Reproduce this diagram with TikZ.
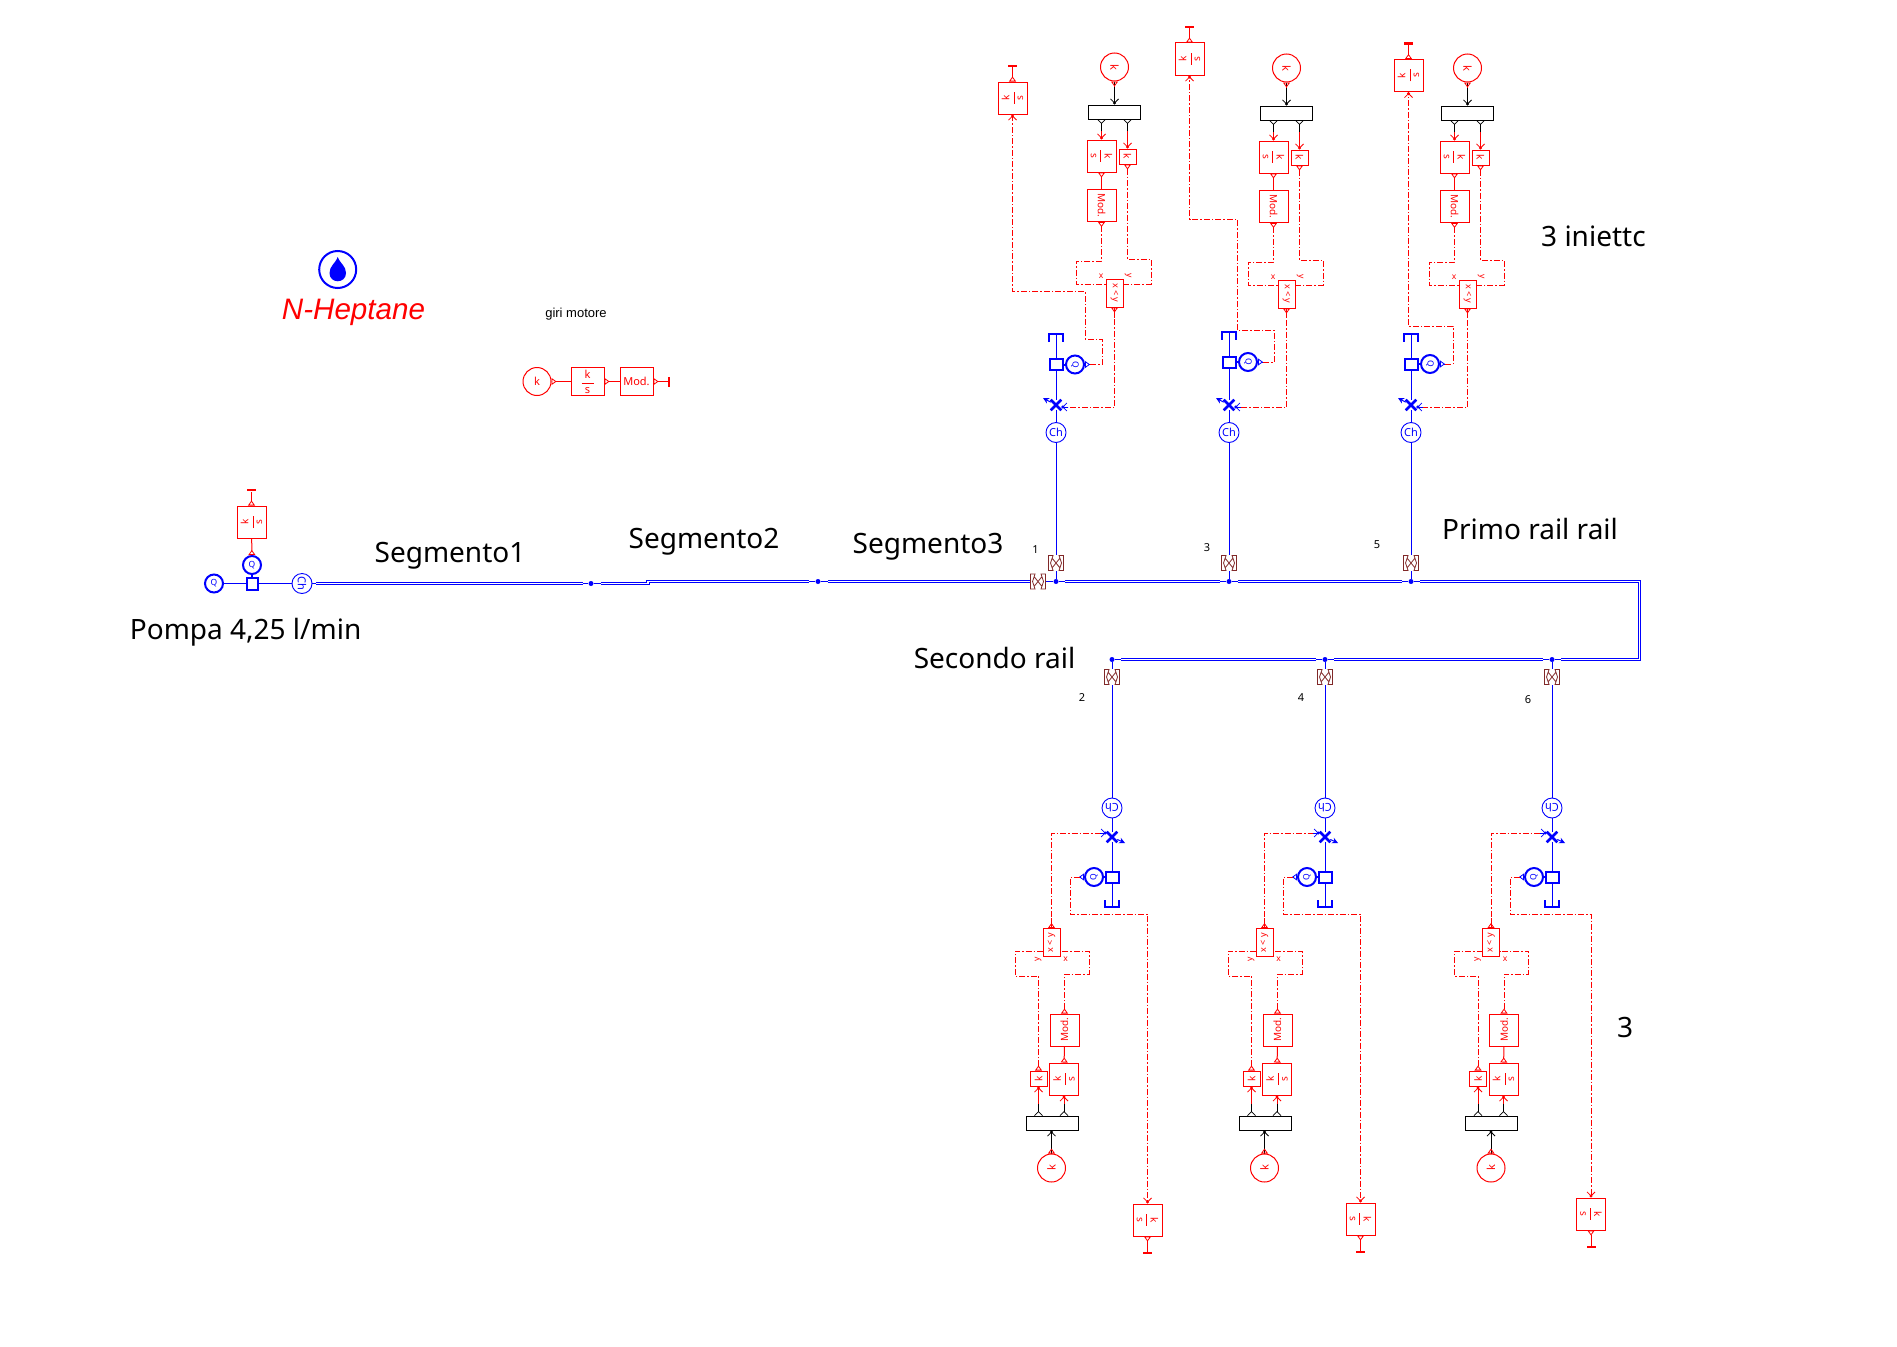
\documentclass[tikz,border=0pt]{standalone}
\usepackage{fontspec}
\usepackage{graphicx}
\setmainfont{Noto Sans}
\newfontfamily\arialfont{Liberation Sans}
\usetikzlibrary{arrows.meta,shapes.misc}
\newcommand{\ksfrac}{$\displaystyle\frac{\makebox[12pt]{\textrm{k}}}{\makebox[12pt]{\textrm{s}}}$}

\begin{document}
\begin{tikzpicture}[x=1pt,y=-1pt]
    % Styles for blocks and lines
    \tikzset{
      inport/.style={-{Straight Barb[length=4pt,width=8pt,line width=.8pt,sep=-2pt]Circle[length=3pt]}},
      outport/.style={{Triangle[open,reversed,length=5pt,width=7pt,line width=.8pt]}-},
      outbarb/.style={{Straight Barb[reversed,length=4pt,width=8pt,line width=.8pt]}-},
      sig/.style={draw=red,line width=1pt,inport,dash pattern=on 6pt off 2pt on 1.5pt off 2pt},
      sigsolid/.style={draw=red,line width=1pt,inport},
      rbox/.style={rectangle,draw=red,line width=1pt,fill=white,text=red,inner sep=0pt,font=\fontsize{10}{11}\selectfont,minimum width=29pt,minimum height=32pt},
      rsmall/.style={rbox,minimum width=17pt,minimum height=15pt},
      rmult/.style={rbox,minimum width=17pt,minimum height=28pt,font=\fontsize{9}{10}\selectfont},
      rflat/.style={rbox,minimum width=33pt,minimum height=28pt,font=\fontsize{11}{12}\selectfont},
      rcirc/.style={circle,draw=red,line width=1pt,text=red,inner sep=0pt,minimum size=28pt,font=\fontsize{11}{12}\selectfont},
      plabel/.style={text=red,inner sep=0pt,font=\fontsize{8.5}{9}\selectfont},
      mux/.style={rectangle,draw=black,line width=1pt,fill=white,inner sep=0pt,minimum width=52pt,minimum height=14pt},
      stopbar/.style={rectangle,fill=red,inner sep=0pt,minimum width=9pt,minimum height=2.6pt},
      pipe/.style={draw=blue,line width=1pt},
      rail/.style={draw=blue,line width=1.1pt,double=white,double distance=1.1pt},
      dot/.style={circle,fill=blue,inner sep=0pt,minimum size=5pt},
      thickline/.style={draw=blue,line width=2pt},
      squarebox/.style={rectangle,draw=blue,line width=2pt,fill=white,inner sep=0pt,minimum width=13pt,minimum height=11pt},
      qcirc/.style={circle,draw=blue,line width=2pt,text=blue,inner sep=0pt,minimum size=18pt,font=\fontsize{8.5}{9}\selectfont},
      chcirc/.style={circle,draw=blue,line width=.9pt,text=blue,inner sep=0pt,minimum size=20pt,font=\bfseries\fontsize{11}{12}\selectfont},
      needle/.style={cross out,draw=blue,line width=2.6pt,inner sep=0pt,minimum size=8pt},
      orif/.style={rectangle,inner sep=0pt,minimum size=16pt,path picture={
        \draw[draw={rgb,255:red,128;green,40;blue,40},line width=.8pt,shift={(path picture bounding box.center)},rotate=#1]
          (-7.5,-7.5) -- (-3,-7.5) -- (-5.5,0) -- (-3,7.5) -- (-7.5,7.5) -- cycle
          (7.5,-7.5) -- (3,-7.5) -- (5.5,0) -- (3,7.5) -- (7.5,7.5) -- cycle
          (-4,-5) -- (4,5) (-4,5) -- (4,-5);}},
      bigtext/.style={inner sep=0pt,font=\fontsize{28}{30}\selectfont},
      numtext/.style={inner sep=0pt,font=\fontsize{11}{12}\selectfont}
    }
    \useasboundingbox (0,0) rectangle (1897,1346);

    % Texts
    \node[bigtext] (pompa) at (245.6,632.5) {Pompa 4,25 l/min};
    \node[bigtext] (seg1) at (450,555.5) {Segmento1};
    \node[bigtext] (seg2) at (704,541.5) {Segmento2};
    \node[bigtext] (seg3) at (928,546.5) {Segmento3};
    \node[bigtext] (primo) at (1530,528.5) {Primo rail rail};
    \node[bigtext] (secondo) at (994.5,658) {Secondo rail};
    \node[bigtext,anchor=west] (inj) at (1541,236) {3 iniettc};
    \node[bigtext] (tre) at (1625,1027) {3};
    \node[inner sep=0pt,font=\arialfont\fontsize{13}{14}\selectfont] (giri) at (576,314.5) {giri motore};
    \node[inner sep=0pt,text=red,font=\arialfont\itshape\fontsize{29.6}{32}\selectfont] (fluid) at (353.5,312) {N-Heptane};

    % Fluid symbol
    \node[circle,draw=blue,line width=2pt,inner sep=0pt,minimum size=37pt] (fluidmark) at (337.7,269.5) {};
    \fill[blue] (337.7,257) .. controls (335,264) and (329.5,266) .. (329.5,273) .. controls (329.5,284) and (346,284) .. (346,273) .. controls (346,266) and (340.5,264) .. (337.7,257) -- cycle;

    % Engine speed
    \node[rcirc] (kgiri) at (537,381.5) {k};
    \node[rflat] (ksgiri) at (587.5,381.5) {\ksfrac};
    \node[rflat] (modgiri) at (636.5,381.5) {Mod.};
    \node[stopbar,minimum width=2.6pt,minimum height=10pt] (endgiri) at (669,381.5) {};
    \draw[sigsolid,outport] (kgiri) -- (ksgiri);
    \draw[sigsolid,outport] (ksgiri) -- (modgiri);
    \draw[sigsolid,outport] (modgiri) -- (endgiri);

    % Pump
    \node[qcirc] (qin) at (214,583.5) {Q};
    \node[squarebox,minimum width=11pt,minimum height=12pt] (pump) at (252,583.5) {};
    \node[qcirc] (qout) at (252,565) {Q};
    \node[rbox] (ksq) at (251.5,522) {\rotatebox{90}{\ksfrac}};
    \node[stopbar] (endq) at (251.5,490) {};
    \node[chcirc] (chp) at (302,583.5) {\rotatebox{-90}{Ch}};
    \draw[pipe] (qin) -- (pump);
    \draw[pipe] (pump) -- (chp);
    \draw[thickline] (pump) -- (qout);
    \draw[sigsolid,outport] (qout) -- (ksq);
    \draw[sigsolid,outport] (ksq) -- (endq);

    % Rail
    \coordinate (r0) at (316,583.5);
    \coordinate (r1) at (583,583.5);
    \node[dot] (j1) at (591,583.5) {};
    \coordinate (r2) at (601,583.5);
    \coordinate (r3) at (809,581.5);
    \node[dot] (j2) at (818,581.5) {};
    \coordinate (r4) at (828,581.5);
    \node[orif=90] (orifh) at (1038,581.5) {};
    \node[dot] (top1) at (1056,581.5) {};
    \coordinate (r5) at (1065,581.5);
    \coordinate (r6) at (1220,581.5);
    \node[dot] (top3) at (1229,581.5) {};
    \coordinate (r7) at (1238,581.5);
    \coordinate (r8) at (1402,581.5);
    \node[dot] (top5) at (1411,581.5) {};
    \coordinate (r9) at (1420,581.5);
    \coordinate (r10) at (1561,659.5);
    \node[dot] (bot6) at (1552,659.5) {};
    \coordinate (r11) at (1543,659.5);
    \coordinate (r12) at (1334,659.5);
    \node[dot] (bot4) at (1325,659.5) {};
    \coordinate (r13) at (1316,659.5);
    \coordinate (r14) at (1121,659.5);
    \node[dot] (bot2) at (1112,659.5) {};
    \draw[pipe] (chp) -- (r0);
    \draw[rail] (r0) -- (r1);
    \draw[pipe] (r1) -- (j1) -- (r2);
    \draw[rail] (r2) -- (648,583.5) -- (648,581.5) -- (r3);
    \draw[pipe] (r3) -- (j2) -- (r4);
    \draw[rail] (r4) -- (orifh);
    \draw[pipe] (orifh) -- (top1) -- (r5);
    \draw[rail] (r5) -- (r6);
    \draw[pipe] (r6) -- (top3) -- (r7);
    \draw[rail] (r7) -- (r8);
    \draw[pipe] (r8) -- (top5) -- (r9);
    \draw[rail] (r9) -- (1639.5,581.5) -- (1639.5,659.5) -- (r10);
    \draw[pipe] (r10) -- (bot6) -- (r11);
    \draw[rail] (r11) -- (r12);
    \draw[pipe] (r12) -- (bot4) -- (r13);
    \draw[rail] (r13) -- (r14);
    \draw[pipe] (r14) -- (bot2);

    % Upper injectors
    \foreach \n/\nx/\lx/\ly/\cx/\cy/\sx/\sy/\dy/\ya/\xb/\yb/\xc in {
      1/1056/1035.6/550/1114.5/0/1012.5/98/0/291/1085/339/1102,
      3/1229/1207/548/1286.5/1/1189.5/59/-2.5/219/1237/330/1274,
      5/1411/1377/545/1467.5/1/1408.5/75.5/-0.5/326/1408.5/326/1453}{
      \node[numtext] (num\n) at (\lx,\ly) {\n};
      \begin{scope}[shift={(\cx,\cy)}]
        \node[rcirc] (kc\n) at (0,67) {\rotatebox{-90}{k}};
        \coordinate (kce\n) at (0,86);
        \node[mux] (mux\n) at (0,112) {};
        \coordinate (muxa\n) at (-13,119);
        \coordinate (muxam\n) at (-13,131);
        \coordinate (muxb\n) at (13,119);
        \coordinate (muxbm\n) at (13,131);
        \node[rbox] (ksc\n) at (-13,156) {\rotatebox{-90}{\ksfrac}};
        \node[rsmall] (kp\n) at (13,156.5) {\rotatebox{-90}{k}};
        \node[rbox] (mod\n) at (-13,205.5) {\rotatebox{-90}{Mod.}};
        \node[rmult] (cmp\n) at (0,293) {\rotatebox{-90}{x < y}};
        \node[plabel] (lx\n) at (-13.5,276) {x};
        \node[plabel] (ly\n) at (13.5,276) {\rotatebox{-90}{y}};
        \coordinate (cmpx\n) at (-8.5,284);
        \coordinate (cmpy\n) at (8.5,284);
        \draw[draw=black,line width=1pt,inport] (kc\n) -- (mux\n);
        \draw[draw=red,line width=1pt,outport] (kc\n) -- (kce\n);
        \draw[draw=black,line width=1pt,outbarb] (muxa\n) -- (muxam\n);
        \draw[draw=black,line width=1pt,outbarb] (muxb\n) -- (muxbm\n);
        \draw[sigsolid] (muxam\n) -- (ksc\n);
        \draw[sigsolid] (muxbm\n) -- (kp\n);
        \draw[sigsolid,outport] (ksc\n) -- (mod\n);
        \draw[sig,outport] (mod\n) -- (-13,261) -- (-38.5,261) -- (-38.5,284) -- (cmpx\n);
        \draw[sig,outport] (kp\n) -- (13,259) -- (36.5,259) -- (36.5,284) -- (cmpy\n);
      \end{scope}
      \node[rbox] (ks\n) at (\sx,\sy) {\rotatebox{90}{\ksfrac}};
      \node[stopbar] (end\n) at (\sx,\sy-32) {};
      \coordinate (cap\n) at (\nx,334+\dy);
      \node[squarebox] (sq\n) at (\nx,364.5+\dy) {};
      \node[qcirc] (oc\n) at (\nx+19,364.5+\dy) {\rotatebox{-90}{Q}};
      \coordinate (oct\n) at (\nx+34,364.5+\dy);
      \node[needle] (nd\n) at (\nx,405) {};
      \coordinate (vent\n) at (\nx-13,398);
      \coordinate (vin\n) at (\nx+12,407);
      \node[chcirc] (ch\n) at (\nx,432.5) {Ch};
      \node[orif=0] (ov\n) at (\nx,563) {};
      \draw[pipe] (top\n) -- (ov\n);
      \draw[pipe] (ov\n) -- (ch\n);
      \draw[pipe] (ch\n) -- (nd\n);
      \draw[pipe] (nd\n) -- (sq\n);
      \draw[pipe] (sq\n) -- (cap\n);
      \draw[thickline] ([shift={(-7,8)}]cap\n) -- ([shift={(-7,0)}]cap\n) -- ([shift={(7,0)}]cap\n) -- ([shift={(7,8)}]cap\n);
      \draw[thickline] (sq\n) -- (oc\n);
      \draw[draw=blue,line width=1pt,-{Stealth[length=6pt,width=6pt]}] (nd\n) -- (vent\n);
      \draw[draw=blue,line width=1pt,outport] (oc\n) -- (oct\n);
      \draw[draw=blue,line width=1pt,inport] (vin\n) -- (vin\n -| nd\n.east);
      \draw[sig,-] (cmp\n) -- (\cx,407) -- (vin\n);
      \draw[draw=red,line width=1pt,outport] (cmp\n) -- (\cx,318);
      \draw[sig] (oct\n) -- (\xc,364.5+\dy) -- (\xc,\yb) -- (\xb,\yb) -- (\xb,\ya) -- (\sx,\ya) -- (ks\n);
      \draw[sigsolid,outport] (ks\n) -- (end\n);
    }

    % Lower injectors
    \foreach \n/\nx/\lx/\ly/\cx/\sx/\sy in {
      2/1112/1082/698/1051.5/1147.5/1220,
      4/1325/1301/698/1264.5/1360.5/1219,
      6/1552/1528/700/1491/1591/1214}{
      \node[numtext] (num\n) at (\lx,\ly) {\n};
      \begin{scope}[shift={(\cx,0)}]
        \node[rcirc] (kc\n) at (0,1168) {\rotatebox{90}{k}};
        \coordinate (kce\n) at (0,1149);
        \node[mux] (mux\n) at (0.5,1123) {};
        \coordinate (muxa\n) at (-13,1116);
        \coordinate (muxam\n) at (-13,1104);
        \coordinate (muxb\n) at (12.5,1116);
        \coordinate (muxbm\n) at (12.5,1104);
        \node[rbox] (ksc\n) at (12.5,1079) {\rotatebox{90}{\ksfrac}};
        \node[rsmall] (kp\n) at (-13,1078.5) {\rotatebox{90}{k}};
        \node[rbox] (mod\n) at (13,1030) {\rotatebox{90}{Mod.}};
        \node[rmult] (cmp\n) at (0,942.5) {\rotatebox{90}{x < y}};
        \node[plabel] (lx\n) at (14,959) {x};
        \node[plabel] (ly\n) at (-13.5,959) {\rotatebox{90}{y}};
        \coordinate (cmpx\n) at (8.5,951);
        \coordinate (cmpy\n) at (-8.5,951);
        \draw[draw=black,line width=1pt,inport] (kc\n) -- (kc\n |- mux\n.south);
        \draw[draw=red,line width=1pt,outport] (kc\n) -- (kce\n);
        \draw[draw=black,line width=1pt,outbarb] (muxa\n) -- (muxam\n);
        \draw[draw=black,line width=1pt,outbarb] (muxb\n) -- (muxbm\n);
        \draw[sigsolid] (muxam\n) -- (kp\n);
        \draw[sigsolid] (muxbm\n) -- (ksc\n);
        \draw[sigsolid,outport] (ksc\n) -- (mod\n);
        \draw[sig,outport] (mod\n) -- (13,974) -- (37.5,974) -- (37.5,951) -- (cmpx\n);
        \draw[sig,outport] (kp\n) -- (-13,976) -- (-36.5,976) -- (-36.5,951) -- (cmpy\n);
      \end{scope}
      \node[rbox] (ks\n) at (\sx,\sy) {\rotatebox{-90}{\ksfrac}};
      \node[stopbar] (end\n) at (\sx,\sy+33) {};
      \coordinate (cap\n) at (\nx,907);
      \node[squarebox] (sq\n) at (\nx,877) {};
      \node[qcirc] (oc\n) at (\nx-18,877) {\rotatebox{90}{Q}};
      \coordinate (oct\n) at (\nx-32,877);
      \node[needle] (nd\n) at (\nx,837) {};
      \coordinate (vent\n) at (\nx+13,843);
      \coordinate (vin\n) at (\nx-12,833);
      \node[chcirc] (ch\n) at (\nx,808) {\rotatebox{180}{Ch}};
      \node[orif=0] (ov\n) at (\nx,677) {};
      \draw[pipe] (bot\n) -- (ov\n);
      \draw[pipe] (ov\n) -- (ch\n);
      \draw[pipe] (ch\n) -- (nd\n);
      \draw[pipe] (nd\n) -- (sq\n);
      \draw[pipe] (sq\n) -- (cap\n);
      \draw[thickline] ([shift={(-7,-7)}]cap\n) -- ([shift={(-7,0)}]cap\n) -- ([shift={(7,0)}]cap\n) -- ([shift={(7,-7)}]cap\n);
      \draw[thickline] (sq\n) -- (oc\n);
      \draw[draw=blue,line width=1pt,-{Stealth[length=6pt,width=6pt]}] (nd\n) -- (vent\n);
      \draw[draw=blue,line width=1pt,outport] (oc\n) -- (oct\n);
      \draw[draw=blue,line width=1pt,inport] (vin\n) -- (vin\n -| nd\n.west);
      \draw[sig,-] (cmp\n) -- (\cx,833) -- (vin\n);
      \draw[draw=red,line width=1pt,outport] (cmp\n) -- (\cx,918);
      \draw[sig] (oct\n) -- (\nx-42,877) -- (\nx-42,914) -- (\sx,914) -- (ks\n);
      \draw[sigsolid,outport] (ks\n) -- (end\n);
    }
\end{tikzpicture}
\end{document}
